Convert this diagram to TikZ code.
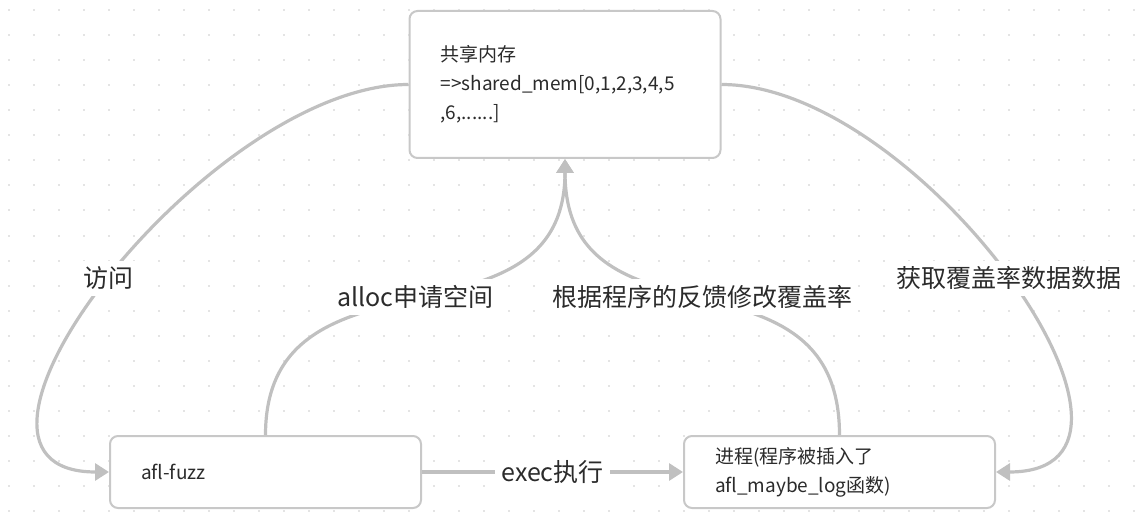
\documentclass[tikz,border=0pt]{standalone}
\usepackage{fontspec}
\setmainfont{Noto Sans CJK SC}
\usetikzlibrary{arrows.meta}
\definecolor{linegray}{HTML}{C0C0C0}
\definecolor{boxgray}{HTML}{C8C8C8}
\definecolor{dotgray}{HTML}{E4E4E4}
\definecolor{txt}{HTML}{2B2B2B}
\begin{document}
\begin{tikzpicture}[x=1pt,y=-1pt,
  box/.style={draw=boxgray, line width=2pt, fill=white, rounded corners=8pt,
    align=left, text=txt, inner xsep=31pt, text width=249pt, minimum height=72pt,
    font=\fontsize{19}{29}\selectfont},
  link/.style={draw=linegray, line width=3.2pt},
  tip/.style={-{Triangle[width=17pt,length=14pt]}},
  lbl/.style={fill=white, text=txt, inner sep=6pt, font=\fontsize{25}{29}\selectfont}]
\useasboundingbox (0,0) rectangle (1144,532);
\foreach \i in {0,...,45}{\foreach \j in {0,...,21}{
  \fill[dotgray] (8+25*\i,9.5+25*\j) rectangle +(2,2);}}

\node[box, minimum height=147pt] (mem) at (565,84.5) {共享内存\\=>shared\_mem[0,1,2,3,4,5\\,6,......]};
\node[box] (fuzz) at (265.5,472) {afl-fuzz};
\node[box] (proc) at (839.5,472) {进程(程序被插入了\\afl\_maybe\_log函数)};

\draw[link, tip] (mem.west) .. controls +(-200,0) and +(-200,0) .. (fuzz.west) node[lbl, pos=0.5] {访问};
\draw[link, tip] (mem.east) .. controls +(200,0) and +(200,0) .. (proc.east) node[lbl, pos=0.5] {获取覆盖率数据数据};
\draw[link, tip] (fuzz.north) .. controls +(0,-200) and +(0,200) .. (mem.south) node[lbl, pos=0.5] {alloc申请空间};
\draw[link, tip] (proc.north) .. controls +(0,-200) and +(0,200) .. (mem.south) node[lbl, pos=0.5] {根据程序的反馈修改覆盖率};
\draw[link, tip] (fuzz.east) -- (proc.west) node[lbl, midway] {exec执行};
\end{tikzpicture}
\end{document}
